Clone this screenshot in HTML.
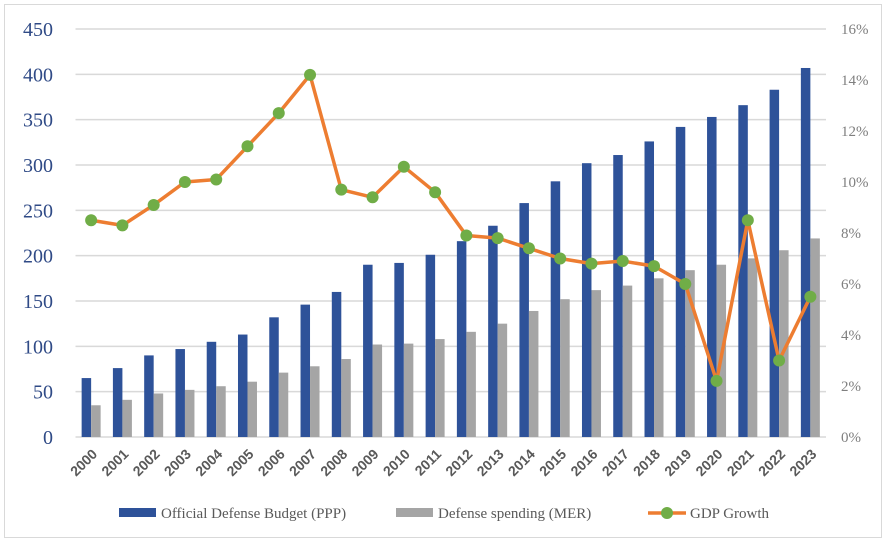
<!DOCTYPE html>
<html><head><meta charset="utf-8"><style>
body{margin:0;background:#fff}
svg{display:block}
</style></head><body>
<svg width="887" height="543" id="c">
<rect x="4.5" y="4.5" width="877" height="533" fill="#fff" stroke="#d9d9d9"/>
</svg>
<script>
const years=["2000","2001","2002","2003","2004","2005","2006","2007","2008","2009","2010","2011","2012","2013","2014","2015","2016","2017","2018","2019","2020","2021","2022","2023"];
const budgetPPP=[65,76,90,97,105,113,132,146,160,190,192,201,216,233,258,282,302,311,326,342,353,366,383,407];
const spendingMER=[35,41,48,52,56,61,71,78,86,102,103,108,116,125,139,152,162,167,175,184,190,197,206,219];
const gdpGrowth=[8.5,8.3,9.1,10.0,10.1,11.4,12.7,14.2,9.7,9.4,10.6,9.6,7.9,7.8,7.4,7.0,6.8,6.9,6.7,6.0,2.2,8.5,3.0,5.5];
const leftTicks=[0,50,100,150,200,250,300,350,400,450];
const rightTicks=[0,2,4,6,8,10,12,14,16];
const NS="http://www.w3.org/2000/svg";
const svg=document.getElementById('c');
const X0=75.5,X1=826,Y0=437,Y1=29;
const step=(X1-X0)/years.length;
const yL=v=>Y0-(v/450)*(Y0-Y1);
const yR=v=>Y0-(v/16)*(Y0-Y1);
const xc=i=>X0+step*(i+0.5);
function mk(t,a){const e=document.createElementNS(NS,t);for(const k in a)e.setAttribute(k,a[k]);svg.appendChild(e);return e;}
leftTicks.forEach(v=>{
 const g=mk('line',{x1:X0,x2:X1,y1:yL(v),y2:yL(v),stroke:'#d9d9d9','stroke-width':1.5});
 
 
 const t=mk('text',{x:53,y:yL(v)+7,'text-anchor':'end','font-family':'Liberation Serif, serif','font-size':20,fill:'#2f4a86'});
 t.textContent=v;
 
 
});
rightTicks.forEach(v=>{
 const t=mk('text',{x:841,y:yR(v)+5,'font-family':'Liberation Serif, serif','font-size':15,fill:'#7f7f7f'});
 t.textContent=v+'%';
 
 
});
years.forEach((y,i)=>{
 const b=mk('rect',{x:xc(i)-9.5,y:yL(budgetPPP[i]),width:9.5,height:Y0-yL(budgetPPP[i]),fill:'#2e5299'});
 
 
 const g=mk('rect',{x:xc(i),y:yL(spendingMER[i]),width:9.5,height:Y0-yL(spendingMER[i]),fill:'#a5a5a5'});
 
 
 const t=mk('text',{x:0,y:0,'text-anchor':'end','font-family':'Liberation Sans, sans-serif','font-size':14,'font-weight':'bold',fill:'#595959',transform:`translate(${xc(i)+7},${Y0+18}) rotate(-45)`});
 t.textContent=y;
 
 
});
const ln=mk('polyline',{points:gdpGrowth.map((v,i)=>xc(i)+','+yR(v)).join(' '),fill:'none',stroke:'#ed7d31','stroke-width':3.5,'stroke-linejoin':'round'});


gdpGrowth.forEach((v,i)=>{
 const c=mk('circle',{cx:xc(i),cy:yR(v),r:6,fill:'#70ad47'});
 
 
});
const LY=513;
const lg=[[119,'#2e5299','Official Defense Budget (PPP)'],[396,'#a5a5a5','Defense spending (MER)']];
lg.forEach(l=>{
 const r=mk('rect',{x:l[0],y:LY-5,width:37,height:9,fill:l[1]});
 
 
 const t=mk('text',{x:l[0]+42,y:LY+5,'font-family':'Liberation Serif, serif','font-size':15,fill:'#595959'});
 t.textContent=l[2];
 
 
});
const ll=mk('line',{x1:648,x2:686,y1:LY,y2:LY,stroke:'#ed7d31','stroke-width':3.5});


const lc=mk('circle',{cx:667,cy:LY,r:6,fill:'#70ad47'});


const lt=mk('text',{x:690,y:LY+5,'font-family':'Liberation Serif, serif','font-size':15,fill:'#595959'});
lt.textContent='GDP Growth';


</script>
</body></html>
